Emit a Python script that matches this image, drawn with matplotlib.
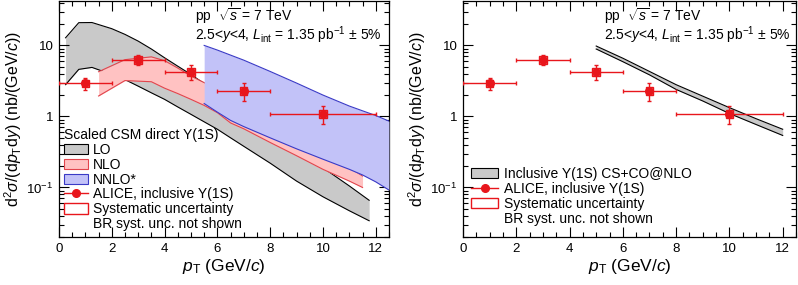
import numpy as np
import matplotlib
matplotlib.use('Agg')
import matplotlib.pyplot as plt
from matplotlib.patches import Rectangle, Patch
from matplotlib.lines import Line2D
from matplotlib.ticker import MultipleLocator, FixedLocator, LogLocator, FuncFormatter, NullFormatter

plt.rcParams['font.family'] = ['Liberation Sans', 'DejaVu Sans']
plt.rcParams['mathtext.fontset'] = 'custom'
plt.rcParams['mathtext.rm'] = 'Liberation Sans'
plt.rcParams['mathtext.it'] = 'Liberation Sans:italic'
plt.rcParams['mathtext.bf'] = 'Liberation Sans:bold'

# ALICE inclusive Y(1S)
pt = [1, 3, 5, 7, 10]
pt_lo = [0, 2, 4, 6, 8]
pt_hi = [2, 4, 6, 8, 12]
xsec = [2.92, 6.3, 4.26, 2.31, 1.09]
stat = [0.6, 1.0, 1.05, 0.67, 0.3]
syst = [0.36, 0.75, 0.52, 0.28, 0.13]

# CSM direct, LO
lo_x = [0.25, 0.75, 1.25, 2, 2.5, 3, 3.5, 4, 4.5, 5, 5.5, 6, 6.5, 7, 8, 9, 10, 11, 11.75]
lo_up = [12.8, 20.9, 21.0, 17.2, 14.3, 11.5, 8.9, 6.7, 5.1, 3.9, 2.9, 2.16, 1.6, 1.19, 0.65, 0.35, 0.19, 0.105, 0.066]
lo_dn = [2.8, 4.6, 4.9, 3.9, 3.3, 2.67, 2.15, 1.74, 1.36, 1.07, 0.84, 0.66, 0.5, 0.38, 0.22, 0.123, 0.074, 0.047, 0.034]

# CSM direct, NLO
nlo_x = [1.5, 2.5, 3.5, 4, 4.5, 5, 5.5, 6, 6.5, 7, 8, 9, 10, 11, 11.5]
nlo_up = [4.26, 6.3, 6.9, 6.1, 4.8, 3.7, 3.0, 2.4, 1.8, 1.4, 0.85, 0.52, 0.32, 0.19, 0.145]
nlo_dn = [1.94, 3.2, 3.08, 2.5, 2.1, 1.74, 1.43, 1.13, 0.81, 0.67, 0.43, 0.28, 0.18, 0.123, 0.1]

# CSM direct, NNLO*
nnlo_x = [5.5, 6, 6.5, 7, 8, 9, 10, 11, 11.5, 12, 12.5]
nnlo_up = [10.0, 8.6, 7.3, 6.2, 4.3, 2.95, 2.0, 1.4, 1.2, 1.03, 0.86]
nnlo_dn = [1.52, 1.15, 0.88, 0.72, 0.5, 0.35, 0.25, 0.18, 0.15, 0.12, 0.092]

# CS+CO @ NLO inclusive
cs_x = [5, 6, 7, 8, 9, 10, 11, 12]
cs_up = [9.8, 6.6, 4.3, 2.8, 1.93, 1.33, 0.93, 0.66]
cs_dn = [8.9, 5.9, 3.85, 2.4, 1.65, 1.1, 0.77, 0.54]

red = '#e8161c'
gray = '#c9c9c9'
pink = '#ffc2c2'
pink_edge = '#e2454d'
blue = '#c2c2f8'
blue_edge = '#3a3ac6'


def style_axes(ax, tx):
    ax.set_yscale('log')
    ax.set_xlim(0, 12.5)
    ax.set_ylim(0.02, 42)
    ax.xaxis.set_major_locator(MultipleLocator(2))
    ax.xaxis.set_minor_locator(MultipleLocator(0.5))
    ax.yaxis.set_major_locator(FixedLocator([0.1, 1, 10]))
    ax.yaxis.set_minor_locator(LogLocator(base=10, subs=np.arange(2, 10)))
    ax.yaxis.set_minor_formatter(NullFormatter())
    labs = {0.1: '10$^{-1}$', 1: '1', 10: '10'}
    ax.yaxis.set_major_formatter(FuncFormatter(lambda v, p: labs.get(round(v, 3), '')))
    ax.tick_params(which='both', direction='in', top=True, right=True, labelsize=9.5, width=0.8)
    ax.tick_params(which='major', length=7, pad=4)
    ax.tick_params(which='minor', length=3.5)
    for s in ax.spines.values():
        s.set_linewidth(0.9)
    ax.set_xlabel(r'$p_{\rm T}$ (GeV/$c$)', fontsize=12.5, labelpad=2)
    ax.set_ylabel(r'd$^2\sigma$/(d$p_{\rm T}$d$y$) (nb/(GeV/$c$))', fontsize=11.5, labelpad=2)
    ax.text(tx, 0.915, r'pp  $\sqrt{s}$ = 7 TeV', transform=ax.transAxes, fontsize=10)
    ax.text(tx, 0.835, r'2.5<$y$<4, $L_{\rm int}$ = 1.35 pb$^{-1}$ $\pm$ 5%',
            transform=ax.transAxes, fontsize=10)


def draw_data(ax):
    for i in range(len(pt)):
        ax.add_patch(Rectangle((pt[i] - 0.14, xsec[i] - syst[i]), 0.28, 2 * syst[i],
                               facecolor='none', edgecolor=red, lw=1.0, zorder=5))
    xerr = [np.array(pt) - np.array(pt_lo), np.array(pt_hi) - np.array(pt)]
    ax.errorbar(pt, xsec, xerr=xerr, yerr=stat, fmt='o', color=red, ms=5.5, lw=1.0,
                capsize=1.5, capthick=1.0, zorder=6)


fig = plt.figure(figsize=(7.98, 2.85), dpi=100)
ax1 = fig.add_axes([0.0739, 0.168, 0.4135, 0.828])
ax2 = fig.add_axes([0.5802, 0.168, 0.4173, 0.828])

# left panel: CSM bands
ax1.fill_between(lo_x, lo_dn, lo_up, color=gray, lw=0, zorder=1)
ax1.plot(lo_x, lo_up, color='k', lw=0.8, zorder=1)
ax1.plot(lo_x, lo_dn, color='k', lw=0.8, zorder=1)
ax1.fill_between(nlo_x, nlo_dn, nlo_up, color=pink, lw=0, zorder=2)
ax1.plot(nlo_x, nlo_up, color=pink_edge, lw=0.8, zorder=2)
ax1.plot(nlo_x, nlo_dn, color=pink_edge, lw=0.8, zorder=2)
ax1.fill_between(nnlo_x, nnlo_dn, nnlo_up, color=blue, lw=0, zorder=3)
ax1.plot(nnlo_x, nnlo_up, color=blue_edge, lw=0.8, zorder=3)
ax1.plot(nnlo_x, nnlo_dn, color=blue_edge, lw=0.8, zorder=3)
draw_data(ax1)
style_axes(ax1, 0.412)

h_alice = Line2D([], [], color=red, marker='o', ms=5.5, lw=1.0)
h_syst = Patch(facecolor='white', edgecolor=red, lw=1.0)
h_none = Patch(facecolor='none', edgecolor='none')
handles1 = [Patch(facecolor=gray, edgecolor='k', lw=0.8),
            Patch(facecolor=pink, edgecolor=pink_edge, lw=0.8),
            Patch(facecolor=blue, edgecolor=blue_edge, lw=0.8),
            h_alice, h_syst, h_none]
labels1 = ['LO', 'NLO', 'NNLO*', 'ALICE, inclusive Υ(1S)', 'Systematic uncertainty',
           'BR syst. unc. not shown']
ax1.legend(handles1, labels1, title='Scaled CSM direct Υ(1S)', loc='upper left',
           bbox_to_anchor=(0.015, 0.462), frameon=False, fontsize=10, title_fontsize=10,
           handlelength=1.7, handleheight=0.75, labelspacing=0.06, handletextpad=0.4,
           borderpad=0, borderaxespad=0, alignment='left')

# right panel: CS+CO NLO
ax2.fill_between(cs_x, cs_dn, cs_up, color=gray, lw=0, zorder=1)
ax2.plot(cs_x, cs_up, color='k', lw=0.8, zorder=1)
ax2.plot(cs_x, cs_dn, color='k', lw=0.8, zorder=1)
draw_data(ax2)
style_axes(ax2, 0.423)

handles2 = [Patch(facecolor=gray, edgecolor='k', lw=0.8), h_alice, h_syst, h_none]
labels2 = ['Inclusive Υ(1S) CS+CO@NLO', 'ALICE, inclusive Υ(1S)',
           'Systematic uncertainty', 'BR syst. unc. not shown']
ax2.legend(handles2, labels2, loc='upper left', bbox_to_anchor=(0.025, 0.298), frameon=False,
           fontsize=10, handlelength=1.95, handleheight=0.75, labelspacing=0.07,
           handletextpad=0.4, borderpad=0, borderaxespad=0)

fig.savefig('out.png', dpi=100)
